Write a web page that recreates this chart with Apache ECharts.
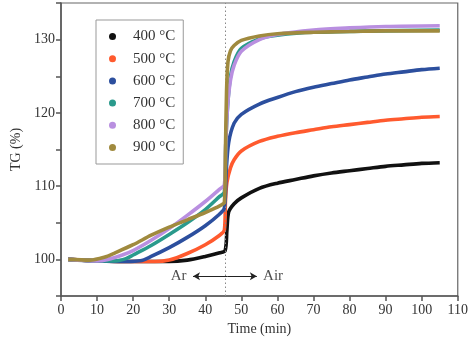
<!DOCTYPE html>
<html><head><meta charset="utf-8">
<script src="https://cdn.jsdelivr.net/npm/echarts@6/dist/echarts.min.js"></script>
<style>html,body{margin:0;padding:0;background:#fff}#c{width:471px;height:345px}</style>
</head><body><div id="c"></div>
<script>
const seriesNames = ['400 °C','500 °C','600 °C','700 °C','800 °C','900 °C'];
const colors = ['#111111','#ff5a2e','#2c4f9e','#2a9a8c','#b98fe0','#a08a3e'];
const xTicks = [0,10,20,30,40,50,60,70,80,90,100,110];
const yTickLabels = [100,110,120,130];

const d400 = [[2,100],[6,99.9],[10,99.8],[20,99.7],[30,99.7],[35,99.9],[40,100.4],[44,100.9],[45.5,101.2],[46,104],[46.5,106.5],[48,107.6],[50,108.4],[55,109.7],[60,110.4],[65,110.9],[70,111.4],[75,111.8],[80,112.1],[85,112.4],[90,112.7],[95,112.9],[100,113.1],[105,113.2]];
const d500 = [[2,100],[10,99.8],[20,99.7],[26,99.7],[30,99.9],[35,100.8],[40,102],[44,103.3],[45.3,104],[45.6,108],[46,110.5],[47,112.5],[48,113.6],[50,114.8],[55,116.1],[60,116.8],[65,117.3],[70,117.7],[75,118.1],[80,118.4],[85,118.7],[90,119],[95,119.2],[100,119.4],[105,119.5]];
const d600 = [[2,100],[10,99.8],[18,99.7],[22,99.8],[25,100.4],[30,101.6],[35,103],[40,104.6],[44,106.2],[45.3,107],[45.8,112],[46.5,116],[48,118.6],[50,119.8],[55,121.2],[60,122.1],[65,122.9],[70,123.5],[75,124],[80,124.5],[85,124.9],[90,125.3],[95,125.6],[100,125.9],[105,126.1]];
const d700 = [[2,100],[10,99.8],[15,99.8],[18,100.1],[20,100.6],[25,101.9],[30,103.4],[35,105],[40,106.8],[44,108.6],[45.3,109.2],[45.7,116],[46.2,121],[47,125],[48,127],[50,128.8],[55,130.1],[60,130.6],[70,131],[105,131.3]];
const d800 = [[2,100],[10,99.8],[13,100],[17,100.6],[20,101.2],[25,102.6],[30,104.2],[35,106],[40,107.9],[44,109.6],[45.3,110.2],[45.7,116],[46.2,121],[47,124.5],[48,126.5],[50,128.4],[55,130],[60,130.7],[70,131.3],[80,131.6],[90,131.8],[105,131.9]];
const d900 = [[2,100],[8,99.9],[12,100.3],[15,100.9],[20,102],[25,103.3],[30,104.4],[35,105.4],[40,106.4],[44,107.3],[45.3,107.8],[45.6,115],[45.9,123],[46.3,127],[47,128.5],[48,129.2],[50,129.9],[55,130.5],[60,130.8],[70,131],[80,131.1],[90,131.2],[105,131.2]];
const allData = [d400,d500,d600,d700,d800,d900];

const switchTime = 45.5;
const arrowY = 97.7;
const annoTexts = [{name:'Ar', value:[32.6, arrowY]}, {name:'Air', value:[58.8, arrowY]}];
const arrows = [[{coord:[46.2, arrowY]},{coord:[36.6, arrowY]}],[{coord:[46.2, arrowY]},{coord:[54.3, arrowY]}]];

const font = 'Liberation Serif';
const chart = echarts.init(document.getElementById('c'));
const series = allData.map((d,i)=>({
  name: seriesNames[i], type:'line', data:d, showSymbol:false, smooth:0.3,
  lineStyle:{width:3.6, color:colors[i]}, itemStyle:{color:colors[i]}, z:2+i
}));
series.push({
  type:'scatter', data:annoTexts, symbolSize:0, silent:true,
  label:{show:true, formatter:'{b}', fontFamily:font, fontSize:15, color:'#222', position:'inside'},
  markLine:{silent:true, symbol:['none','none'], label:{show:false},
    lineStyle:{type:[1.5,2.5], color:'#888', width:1},
    data:[{xAxis:switchTime}]}
});
series.push({
  type:'scatter', data:[], silent:true,
  markLine:{silent:true, symbol:['none','arrow'], symbolSize:[6,7], label:{show:false},
    lineStyle:{type:'solid', color:'#222', width:1}, data:arrows}
});

chart.setOption({
  animation:false,
  backgroundColor:'#fff',
  grid:{left:61, right:11, top:3, bottom:49, show:true, borderColor:'#666', borderWidth:1.2},
  legend:{
    orient:'vertical', left:96, top:20,
    padding:[9,8,9,13], itemGap:7.2,
    borderColor:'#999', borderWidth:1,
    icon:'circle', itemWidth:7, itemHeight:7,
    textStyle:{fontFamily:font, fontSize:15, color:'#333', padding:[0,0,0,12]},
    data:seriesNames
  },
  xAxis:{
    type:'value', min:0, max:110, interval:10,
    name:'Time (min)', nameLocation:'middle', nameGap:24,
    nameTextStyle:{fontFamily:font, fontSize:14, color:'#333'},
    axisLine:{show:true, lineStyle:{color:'#555', width:1.5}},
    axisTick:{show:true, length:5, lineStyle:{color:'#555', width:1.5}},
    axisLabel:{fontFamily:font, fontSize:14, color:'#333', margin:7,
      formatter:v=>xTicks.includes(v)?String(v):''},
    splitLine:{show:false}
  },
  yAxis:{
    type:'value', min:95, max:135, interval:5,
    name:'TG (%)', nameLocation:'middle', nameGap:34,
    nameTextStyle:{fontFamily:font, fontSize:14, color:'#333'},
    axisLine:{show:true, lineStyle:{color:'#555', width:1.5}},
    axisTick:{show:true, length:5, lineStyle:{color:'#555', width:1.5}},
    axisLabel:{fontFamily:font, fontSize:14, color:'#333', margin:6,
      formatter:v=>yTickLabels.includes(v)?String(v):''},
    splitLine:{show:false}
  },
  series
});
</script></body></html>
